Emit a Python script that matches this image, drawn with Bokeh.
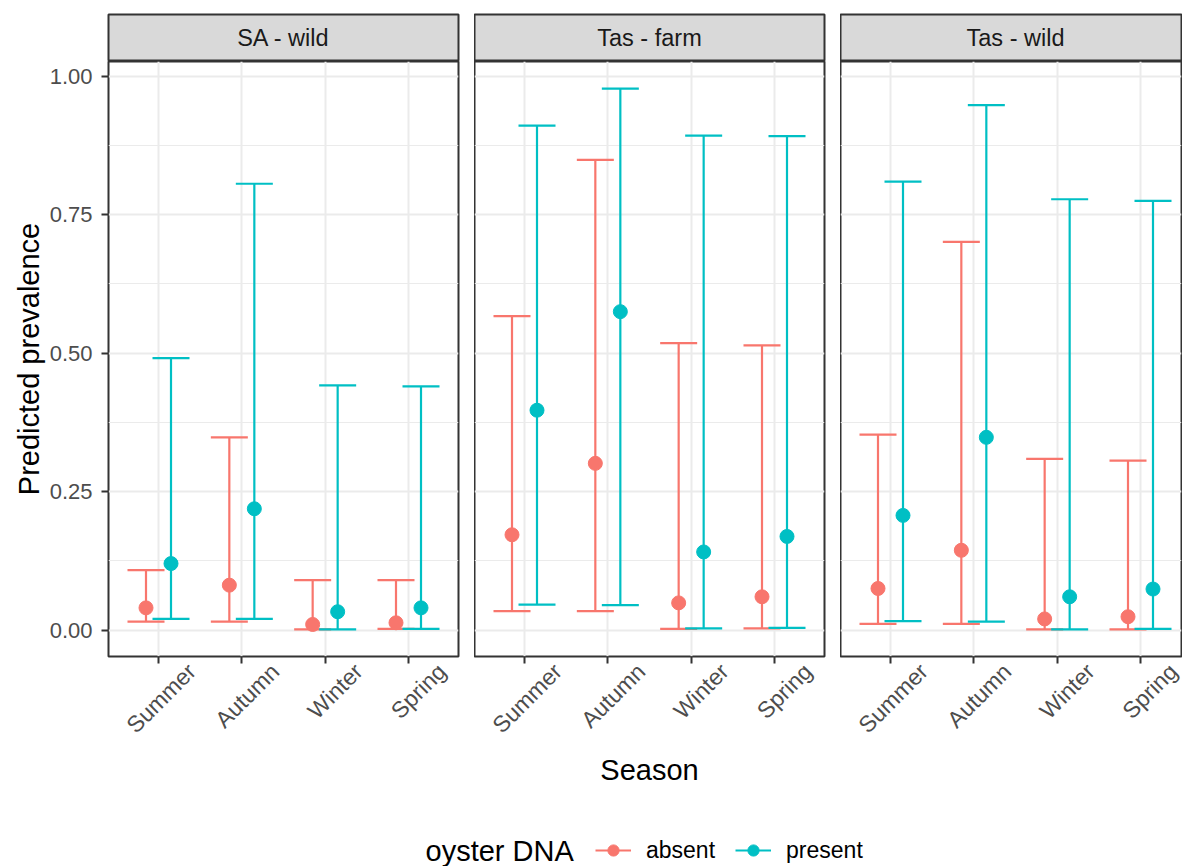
import math
import numpy as np
from bokeh.plotting import figure
from bokeh.models import (ColumnDataSource, Whisker, TeeHead, FixedTicker, NumeralTickFormatter,
                          LinearAxis, Range1d, Label, Legend, LegendItem, Grid)
from bokeh.layouts import row, column
from bokeh.embed import file_html
from bokeh.resources import INLINE

# ---------------- data ----------------
seasons = ["Summer", "Autumn", "Winter", "Spring"]
sites = ["SA - wild", "Tas - farm", "Tas - wild"]
groups = ["absent", "present"]
y_ticks = [0.0, 0.25, 0.5, 0.75, 1.0]

sa_wild_absent_est = [0.040, 0.081, 0.010, 0.013]
sa_wild_absent_lo = [0.015, 0.015, 0.001, 0.002]
sa_wild_absent_hi = [0.108, 0.348, 0.090, 0.090]
sa_wild_present_est = [0.120, 0.219, 0.033, 0.040]
sa_wild_present_lo = [0.020, 0.020, 0.001, 0.002]
sa_wild_present_hi = [0.491, 0.806, 0.442, 0.440]

tas_farm_absent_est = [0.172, 0.301, 0.049, 0.060]
tas_farm_absent_lo = [0.034, 0.034, 0.002, 0.003]
tas_farm_absent_hi = [0.567, 0.849, 0.518, 0.514]
tas_farm_present_est = [0.397, 0.575, 0.141, 0.169]
tas_farm_present_lo = [0.046, 0.045, 0.003, 0.004]
tas_farm_present_hi = [0.911, 0.978, 0.893, 0.892]

tas_wild_absent_est = [0.075, 0.144, 0.020, 0.024]
tas_wild_absent_lo = [0.011, 0.011, 0.001, 0.001]
tas_wild_absent_hi = [0.353, 0.701, 0.309, 0.306]
tas_wild_present_est = [0.207, 0.348, 0.060, 0.074]
tas_wild_present_lo = [0.016, 0.015, 0.001, 0.002]
tas_wild_present_hi = [0.810, 0.948, 0.778, 0.775]

panel_data = {
    "SA - wild": {
        "absent": (sa_wild_absent_est, sa_wild_absent_lo, sa_wild_absent_hi),
        "present": (sa_wild_present_est, sa_wild_present_lo, sa_wild_present_hi),
    },
    "Tas - farm": {
        "absent": (tas_farm_absent_est, tas_farm_absent_lo, tas_farm_absent_hi),
        "present": (tas_farm_present_est, tas_farm_present_lo, tas_farm_present_hi),
    },
    "Tas - wild": {
        "absent": (tas_wild_absent_est, tas_wild_absent_lo, tas_wild_absent_hi),
        "present": (tas_wild_present_est, tas_wild_present_lo, tas_wild_present_hi),
    },
}

# ---------------- style ----------------
FONT = "Liberation Sans"
COLORS = {"absent": "#F8766D", "present": "#00BFC4"}
DODGE = {"absent": -0.15, "present": 0.15}
BORDER = "#333333"
GRID = "#EBEBEB"
TICK_TXT = "#4D4D4D"
FULL_W = 350
FRAME_H = 595
STRIP_H = 47
TOP = 14
BOTTOM = 135
TOTAL_W = 1182
TOTAL_H = 866
LABEL_SHIFT = 0.40
LW = 2.2

season_pos = np.arange(1, len(seasons) + 1, dtype=float)
all_lo = [v for s in sites for g in groups for v in panel_data[s][g][1]]
all_hi = [v for s in sites for g in groups for v in panel_data[s][g][2]]
ymin, ymax = min(all_lo), max(all_hi)
pad = 0.05 * (ymax - ymin)
y_minor = [(a + b) / 2 for a, b in zip(y_ticks[:-1], y_ticks[1:])]

label_ticks = [round(float(t) + LABEL_SHIFT, 3) for t in season_pos]
label_over = {t: s for t, s in zip(label_ticks, seasons)}
blank_over = {float(t): "" for t in season_pos}

lefts = [108, 0, 0]
rights = [16, 16, 1]
widths = [350, 350, TOTAL_W - (108 + 350 + 16) - (350 + 16) - 1]

cols = []
for idx, site in enumerate(sites):
    fw = widths[idx]
    x_start = 0.4
    x_end = x_start + (len(seasons) + 0.2) * fw / FULL_W

    # strip
    s = figure(frame_width=fw, frame_height=STRIP_H, x_range=Range1d(0, fw / FULL_W),
               y_range=Range1d(0, 1), x_axis_type=None, y_axis_type=None,
               toolbar_location=None, output_backend="svg",
               min_border_left=lefts[idx], min_border_right=rights[idx],
               min_border_top=TOP, min_border_bottom=0,
               background_fill_color="#D9D9D9", border_fill_color="white",
               outline_line_color=BORDER, outline_line_width=2)
    s.add_layout(Label(x=0.5, y=0.5, text=site, text_align="center", text_baseline="middle",
                       text_font_size="23.5px", text_color="#1A1A1A", text_font=FONT))

    p = figure(frame_width=fw, frame_height=FRAME_H,
               x_range=Range1d(x_start, x_end), y_range=Range1d(ymin - pad, ymax + pad),
               x_axis_type=None, y_axis_type=None,
               toolbar_location=None, output_backend="svg",
               min_border_left=lefts[idx], min_border_right=rights[idx],
               min_border_top=0, min_border_bottom=BOTTOM,
               background_fill_color="white", border_fill_color="white",
               outline_line_color=BORDER, outline_line_width=2)

    p.add_layout(Grid(dimension=0, ticker=FixedTicker(ticks=list(season_pos)),
                      grid_line_color=GRID, grid_line_width=2))
    p.add_layout(Grid(dimension=1, ticker=FixedTicker(ticks=y_ticks, minor_ticks=y_minor),
                      grid_line_color=GRID, grid_line_width=2,
                      minor_grid_line_color=GRID, minor_grid_line_width=1))

    # x axis: tick marks only
    xa1 = LinearAxis(ticker=FixedTicker(ticks=list(season_pos)), major_label_overrides=blank_over,
                     major_label_text_font_size="1px", major_label_standoff=0,
                     major_tick_out=7, major_tick_in=0, major_tick_line_color=BORDER,
                     major_tick_line_width=2, minor_tick_line_color=None, axis_line_color=None)
    p.add_layout(xa1, "below")
    # x axis: rotated season labels
    xa2 = LinearAxis(ticker=FixedTicker(ticks=label_ticks), major_label_overrides=label_over,
                     major_label_orientation=math.pi / 4, major_label_standoff=4,
                     major_label_text_font_size="23px", major_label_text_color=TICK_TXT,
                     major_label_text_font=FONT,
                     major_tick_out=0, major_tick_in=0, major_tick_line_color=None,
                     minor_tick_line_color=None, axis_line_color=None)
    if idx == 1:
        xa2.axis_label = "Season"
        xa2.axis_label_text_font_size = "29px"
        xa2.axis_label_text_font_style = "normal"
        xa2.axis_label_text_font = FONT
        xa2.axis_label_text_color = "black"
        xa2.axis_label_standoff = 4
    p.add_layout(xa2, "below")

    if idx == 0:
        ya = LinearAxis(ticker=FixedTicker(ticks=y_ticks), formatter=NumeralTickFormatter(format="0.00"),
                        axis_label="Predicted prevalence", axis_label_text_font_size="29px",
                        axis_label_text_font_style="normal", axis_label_text_font=FONT,
                        axis_label_text_color="black", axis_label_standoff=2,
                        major_label_text_font_size="22px", major_label_text_color=TICK_TXT,
                        major_label_text_font=FONT, major_label_standoff=9,
                        major_tick_out=7, major_tick_in=0, major_tick_line_color=BORDER,
                        major_tick_line_width=2, minor_tick_line_color=None, axis_line_color=None)
        p.add_layout(ya, "left")

    for g in groups:
        est, lo, hi = panel_data[site][g]
        src = ColumnDataSource(dict(x=season_pos + DODGE[g], est=est, lo=lo, hi=hi))
        c = COLORS[g]
        w = Whisker(source=src, base="x", upper="hi", lower="lo", dimension="height",
                    line_color=c, line_width=LW,
                    upper_head=TeeHead(size=37, line_color=c, line_width=LW),
                    lower_head=TeeHead(size=37, line_color=c, line_width=LW))
        p.add_layout(w)
    for g in groups:
        est, lo, hi = panel_data[site][g]
        src = ColumnDataSource(dict(x=season_pos + DODGE[g], est=est))
        p.scatter(x="x", y="est", source=src, size=14, color=COLORS[g], marker="circle")

    cols.append(column(s, p, spacing=0))

top = row(*cols, spacing=0)
top_h = TOP + STRIP_H + FRAME_H + BOTTOM

# legend (key glyphs use placeholder NaN rows, so nothing is plotted in the strip itself)
LH = TOTAL_H - top_h
lf = figure(width=TOTAL_W, height=LH, x_range=Range1d(0, TOTAL_W), y_range=Range1d(0, LH),
            x_axis_type=None, y_axis_type=None, toolbar_location=None, output_backend="svg",
            min_border=0, outline_line_color=None, border_fill_color="white")
items = []
for g in groups:
    key_src = ColumnDataSource(dict(x=[float("nan")], y=[float("nan")]))
    rl = lf.line(x="x", y="y", source=key_src, line_color=COLORS[g], line_width=LW)
    rp = lf.scatter(x="x", y="y", source=key_src, color=COLORS[g], size=14, marker="circle")
    items.append(LegendItem(label=g, renderers=[rl, rp]))
leg = Legend(items=items, orientation="horizontal", location=(595, 2),
             label_text_font_size="23px", label_text_font=FONT, label_text_color="black",
             glyph_width=36, glyph_height=28, label_standoff=15, spacing=20,
             padding=0, margin=0, border_line_color=None, background_fill_alpha=0)
lf.add_layout(leg)
lf.add_layout(Label(x=425, y=16, text="oyster DNA", text_align="left", text_baseline="middle",
                    text_font_size="29px", text_font=FONT, text_color="black"))

layout = column(top, lf, spacing=0)
open("out.html", "w").write(file_html(layout, INLINE))
